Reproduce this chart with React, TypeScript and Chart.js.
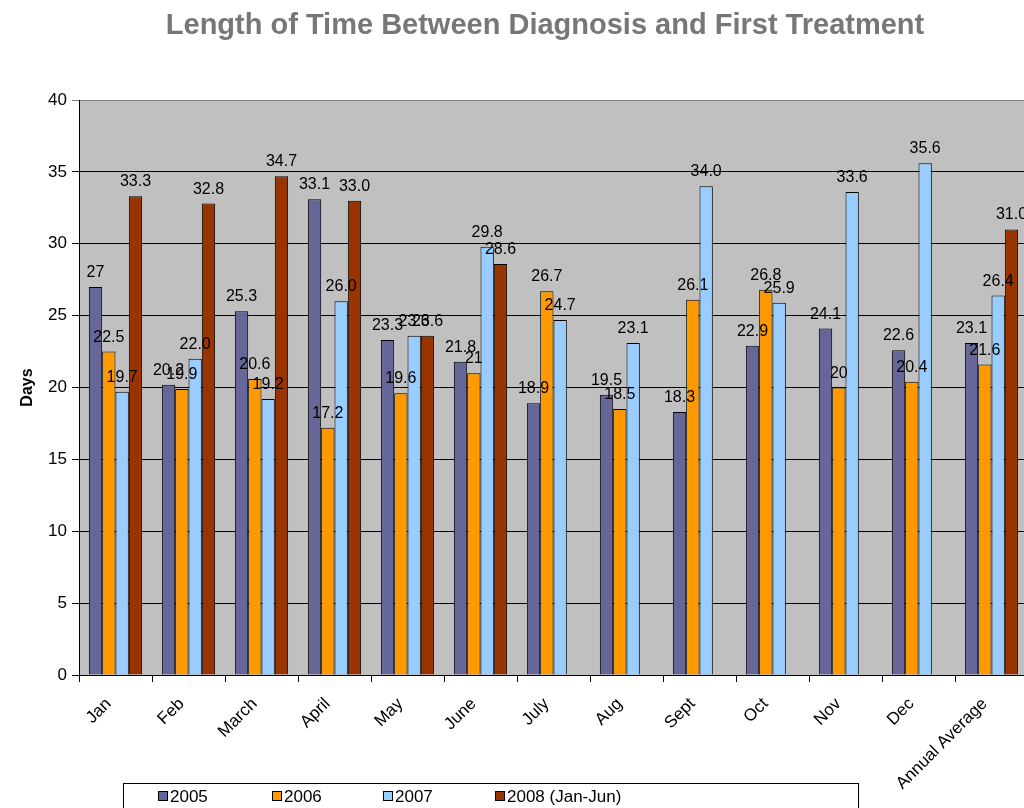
import React, { useEffect, useRef } from "react";
import { Chart, registerables } from "chart.js";

Chart.register(...registerables);

const categories = ["Jan", "Feb", "March", "April", "May", "June", "July", "Aug", "Sept", "Oct", "Nov", "Dec", "Annual Average"];
const seriesNames = ["2005", "2006", "2007", "2008 (Jan-Jun)"];
const values2005 = [27, 20.2, 25.3, 33.1, 23.3, 21.8, 18.9, 19.5, 18.3, 22.9, 24.1, 22.6, 23.1];
const values2006 = [22.5, 19.9, 20.6, 17.2, 19.6, 21, 26.7, 18.5, 26.1, 26.8, 20, 20.4, 21.6];
const values2007 = [19.7, 22.0, 19.2, 26.0, 23.6, 29.8, 24.7, 23.1, 34.0, 25.9, 33.6, 35.6, 26.4];
const values2008 = [33.3, 32.8, 34.7, 33.0, 23.6, 28.6, null, null, null, null, null, null, 31.0];
const fixedDecimals = [false, false, true, true];
const colors = ["#666699", "#FF9900", "#99CCFF", "#993300"];
const yTicks = [0, 5, 10, 15, 20, 25, 30, 35, 40];
const titleText = "Length of Time Between Diagnosis and First Treatment";
const FONT = "'Liberation Sans', Arial, sans-serif";

const plotBg = {
  id: "plotBg",
  beforeDraw(chart: any) {
    const { ctx, chartArea } = chart;
    ctx.save();
    ctx.fillStyle = "#C0C0C0";
    ctx.fillRect(chartArea.left, chartArea.top, chartArea.right - chartArea.left, chartArea.bottom - chartArea.top);
    ctx.restore();
  },
};

const extras = {
  id: "extras",
  afterDatasetsDraw(chart: any) {
    const { ctx } = chart;
    ctx.save();
    ctx.font = `16px ${FONT}`;
    ctx.fillStyle = "#000";
    ctx.textAlign = "center";
    ctx.textBaseline = "alphabetic";
    chart.data.datasets.forEach((ds: any, di: number) => {
      const meta = chart.getDatasetMeta(di);
      meta.data.forEach((el: any, i: number) => {
        const v = ds.data[i];
        if (v === null || v === undefined) return;
        const label = fixedDecimals[di] ? v.toFixed(1) : String(v);
        ctx.fillText(label, el.x, el.y - 10);
      });
    });
    ctx.restore();
  },
  afterDraw(chart: any) {
    const { ctx } = chart;
    ctx.save();
    // title
    ctx.font = `bold 29px ${FONT}`;
    ctx.fillStyle = "#777777";
    ctx.textAlign = "center";
    ctx.textBaseline = "middle";
    ctx.fillText(titleText, 545, 26);
    // legend
    ctx.fillStyle = "#FFFFFF";
    ctx.fillRect(123.5, 783.5, 735, 30);
    ctx.strokeStyle = "#000";
    ctx.lineWidth = 1;
    ctx.strokeRect(123.5, 783.5, 735, 30);
    const xs = [158, 272, 383, 495];
    ctx.font = `17px ${FONT}`;
    ctx.textAlign = "left";
    ctx.textBaseline = "middle";
    seriesNames.forEach((n, i) => {
      ctx.fillStyle = colors[i];
      ctx.fillRect(xs[i] + 0.5, 791.5, 9, 9);
      ctx.strokeStyle = "#000";
      ctx.strokeRect(xs[i] + 0.5, 791.5, 9, 9);
      ctx.fillStyle = "#000";
      ctx.fillText(n, xs[i] + 12, 797);
    });
    ctx.restore();
  },
};

export default function App() {
  const ref = useRef<HTMLCanvasElement | null>(null);
  useEffect(() => {
    if (!ref.current) return;
    const allSeries = [values2005, values2006, values2007, values2008];
    const chart = new Chart(ref.current, {
      type: "bar",
      data: {
        labels: categories,
        datasets: allSeries.map((d, i) => ({
          label: seriesNames[i],
          data: d,
          backgroundColor: colors[i],
          borderColor: "#000",
          borderWidth: 1,
          categoryPercentage: 0.73,
          barPercentage: 1,
        })),
      },
      options: {
        responsive: false,
        animation: false,
        devicePixelRatio: 1,
        layout: { padding: { top: 100, right: 12, bottom: 0, left: 0 } },
        plugins: {
          legend: { display: false },
          title: { display: false },
          tooltip: { enabled: false },
        },
        scales: {
          x: {
            offset: true,
            grid: { offset: true, drawOnChartArea: false, drawTicks: true, tickLength: 7, color: "#000" },
            border: { color: "#000", width: 1 },
            ticks: {
              autoSkip: false,
              minRotation: 45,
              maxRotation: 45,
              color: "#000",
              font: { family: FONT, size: 17 },
              padding: 12,
              labelOffset: -7,
            },
            afterFit(scale: any) {
              scale.height = 133;
            },
          },
          y: {
            min: 0,
            max: 40,
            afterBuildTicks(scale: any) {
              scale.ticks = yTicks.map((v) => ({ value: v }));
            },
            grid: {
              color: (c: any) => (c.tick && c.tick.value === 40 ? "#808080" : "#000"),
              tickLength: 7,
            },
            border: { color: "#000", width: 1 },
            ticks: { color: "#000", font: { family: FONT, size: 17 }, padding: 5 },
            title: {
              display: true,
              text: "Days",
              color: "#000",
              font: { family: FONT, size: 16, weight: "bold" },
              padding: { top: 18, bottom: 0 },
            },
            afterFit(scale: any) {
              scale.width = 79;
            },
          },
        },
      },
      plugins: [plotBg, extras],
    });
    return () => chart.destroy();
  }, []);
  return (
    <div style={{ position: "fixed", left: 0, top: 0, width: 1024, height: 808, overflow: "hidden", background: "#fff" }}>
      <canvas ref={ref} width={1040} height={808} style={{ display: "block" }} />
    </div>
  );
}
